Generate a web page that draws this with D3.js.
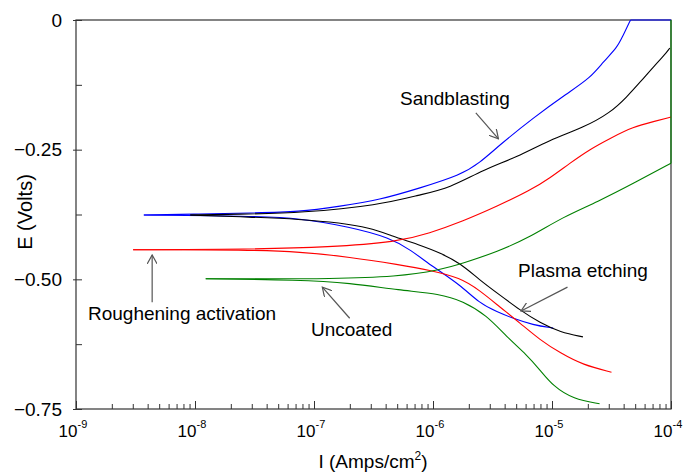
<!DOCTYPE html>
<html>
<head>
<meta charset="utf-8">
<script src="https://cdn.jsdelivr.net/npm/d3@7"></script>
<style>
  html, body { margin: 0; padding: 0; background: #fff; }
  svg { display: block; }
  text { font-family: Arial, "Liberation Sans", sans-serif; fill: #000; }
</style>
</head>
<body>
<svg id="chart" width="686" height="474"></svg>
<script>
// ---------- data (log10 of current density, potential in volts) ----------
const decadeExponents = [-9, -8, -7, -6, -5, -4];
const yTickValues = [0, -0.25, -0.5, -0.75];
const yMinorValues = [-0.125, -0.375, -0.625];

// Sandblasting (blue)
const blueAnodicLogI = [-8.43, -7.96, -7.54, -7.12, -6.78, -6.45, -6.11, -5.77, -5.61, -5.44, -5.16, -4.87, -4.68, -4.57, -4.45, -4.41, -4.34, -4.2, -4.0];
const blueAnodicE    = [-0.376, -0.374, -0.372, -0.370, -0.359, -0.347, -0.324, -0.299, -0.276, -0.241, -0.189, -0.141, -0.112, -0.081, -0.052, -0.033, 0.0, 0.05, 0.1];
const blueCathodicLogI = [-8.43, -7.54, -7.12, -6.70, -6.36, -6.19, -6.00, -5.77, -5.61, -5.46, -5.33, -5.16, -4.99];
const blueCathodicE    = [-0.376, -0.378, -0.382, -0.399, -0.420, -0.443, -0.476, -0.511, -0.546, -0.563, -0.575, -0.588, -0.594];

// Plasma etching (black)
const blackAnodicLogI = [-8.04, -7.54, -7.12, -6.45, -6.11, -5.86, -5.58, -5.29, -5.02, -4.74, -4.51, -4.37, -4.26, -4.12, -4.06, -4.01];
const blackAnodicE    = [-0.376, -0.374, -0.372, -0.357, -0.337, -0.324, -0.289, -0.264, -0.231, -0.208, -0.179, -0.148, -0.120, -0.083, -0.069, -0.054];
const blackCathodicLogI = [-8.04, -7.54, -7.12, -6.78, -6.53, -6.36, -6.11, -5.94, -5.77, -5.61, -5.44, -5.27, -5.10, -4.93, -4.74];
const blackCathodicE    = [-0.376, -0.380, -0.384, -0.391, -0.401, -0.415, -0.434, -0.449, -0.469, -0.501, -0.530, -0.559, -0.584, -0.602, -0.611];

// Roughening activation (red)
const redAnodicLogI = [-8.52, -7.54, -6.87, -6.30, -6.03, -5.75, -5.46, -5.18, -5.02, -4.85, -4.68, -4.51, -4.32, -4.13, -4.00];
const redAnodicE    = [-0.443, -0.442, -0.438, -0.428, -0.411, -0.388, -0.359, -0.328, -0.305, -0.276, -0.249, -0.228, -0.206, -0.195, -0.187];
const redCathodicLogI = [-8.52, -7.54, -7.12, -6.70, -6.28, -6.03, -5.77, -5.61, -5.44, -5.27, -5.10, -4.93, -4.74, -4.50];
const redCathodicE    = [-0.443, -0.443, -0.447, -0.457, -0.472, -0.482, -0.497, -0.521, -0.553, -0.584, -0.617, -0.642, -0.665, -0.679];

// Uncoated (green)
const greenAnodicLogI = [-7.91, -7.45, -6.87, -6.30, -5.94, -5.75, -5.46, -5.18, -4.91, -4.62, -4.29, -4.00, -3.95, -3.9, -3.8];
const greenAnodicE    = [-0.499, -0.499, -0.499, -0.495, -0.482, -0.469, -0.447, -0.418, -0.380, -0.351, -0.312, -0.276, -0.2, -0.08, 0.05];
const greenCathodicLogI = [-7.91, -7.12, -6.70, -6.28, -5.94, -5.75, -5.55, -5.38, -5.21, -5.10, -4.99, -4.82, -4.60];
const greenCathodicE    = [-0.499, -0.501, -0.507, -0.521, -0.528, -0.542, -0.569, -0.611, -0.646, -0.675, -0.706, -0.731, -0.740];

const seriesNames = ["Sandblasting", "Plasma etching", "Roughening activation", "Uncoated"];
const seriesColors = ["#0000ff", "#000000", "#ff0000", "#008000"];

// annotation arrows: [logI, E] of tail and head
const noteTail = [[-5.64, -0.179], [-4.87, -0.515], [-8.36, -0.544], [-6.70, -0.575]];
const noteHead = [[-5.45, -0.229], [-5.26, -0.561], [-8.36, -0.453], [-6.93, -0.515]];

// ---------- layout ----------
const svg = d3.select("#chart");
const L = 76, R = 671, T = 20, B = 409;
const x = d3.scaleLog().domain([1e-9, 1e-4]).range([L, R]).clamp(true);
const y = d3.scaleLinear().domain([0, -0.75]).range([T, B]).clamp(true);

const toPts = (li, e) => li.map((v, i) => [Math.pow(10, v), e[i]]);
const curves = [
  {c: 0, pts: toPts(blueAnodicLogI, blueAnodicE)},
  {c: 0, pts: toPts(blueCathodicLogI, blueCathodicE)},
  {c: 1, pts: toPts(blackAnodicLogI, blackAnodicE)},
  {c: 1, pts: toPts(blackCathodicLogI, blackCathodicE)},
  {c: 2, pts: toPts(redAnodicLogI, redAnodicE)},
  {c: 2, pts: toPts(redCathodicLogI, redCathodicE)},
  {c: 3, pts: toPts(greenAnodicLogI, greenAnodicE)},
  {c: 3, pts: toPts(greenCathodicLogI, greenCathodicE)}
];

// frame
svg.append("rect").attr("x", L).attr("y", T).attr("width", R - L).attr("height", B - T)
  .attr("fill", "none").attr("stroke", "#333").attr("stroke-width", 1.2);

// y axis: outer part of major ticks with labels
const yAxis = d3.axisLeft(y).tickValues(yTickValues).tickSizeInner(3).tickSizeOuter(0).tickPadding(11)
  .tickFormat(d => d === 0 ? "0" : d3.format(".2f")(d));
const gy = svg.append("g").attr("transform", `translate(${L},0)`).call(yAxis);
gy.select(".domain").remove();
gy.selectAll("line").attr("stroke", "#333");
gy.selectAll("text").attr("font-size", 19).style("font-family", "Arial, 'Liberation Sans', sans-serif");
// inner ticks (major + minor)
const gyIn = svg.append("g").attr("transform", `translate(${L},0)`)
  .call(d3.axisLeft(y).tickValues(yTickValues.concat(yMinorValues)).tickSizeInner(-6).tickSizeOuter(0).tickFormat(""));
gyIn.select(".domain").remove();
gyIn.selectAll("line").attr("stroke", "#333");

// x axis
const decades = decadeExponents.map(e => Math.pow(10, e));
const minors = [];
decadeExponents.slice(0, -1).forEach(e => { for (let k = 2; k <= 9; k++) minors.push(k * Math.pow(10, e)); });
const gxMin = svg.append("g").attr("transform", `translate(0,${B})`)
  .call(d3.axisBottom(x).tickValues(minors).tickSizeInner(-5).tickSizeOuter(0).tickFormat(""));
gxMin.select(".domain").remove();
gxMin.selectAll("line").attr("stroke", "#333");
const gx = svg.append("g").attr("transform", `translate(0,${B})`)
  .call(d3.axisBottom(x).tickValues(decades).tickSizeInner(-8).tickSizeOuter(0).tickFormat(""));
gx.select(".domain").remove();
gx.selectAll("line").attr("stroke", "#333");
gx.selectAll(".tick").each(function(d, i) {
  const g = d3.select(this);
  g.append("text").attr("x", 1).attr("y", 28).attr("text-anchor", "end")
    .attr("font-size", 17).attr("fill", "#000").text("10");
  g.append("text").attr("x", 1).attr("y", 19).attr("text-anchor", "start")
    .attr("font-size", 11).attr("fill", "#000").text(String(decadeExponents[i]));
});

// axis titles
svg.append("text").attr("transform", `translate(32,212) rotate(-90)`)
  .attr("text-anchor", "middle").attr("font-size", 20).text("E (Volts)");
const xt = svg.append("text").attr("x", 373).attr("y", 468).attr("text-anchor", "middle").attr("font-size", 19);
xt.append("tspan").text("I (Amps/cm");
xt.append("tspan").attr("dy", -8).attr("font-size", 12).text("2");
xt.append("tspan").attr("dy", 8).text(")");

// curves: in-range part smoothed, part beyond the axes drawn straight (clamped to the frame)
const inside = d => d[0] <= 1e-4 && d[1] <= 0;
const smooth = d3.line().x(d => x(d[0])).y(d => y(d[1])).curve(d3.curveBasis);
const straight = d3.line().x(d => x(d[0])).y(d => y(d[1]));
const gc = svg.append("g");
curves.forEach(cv => {
  let k = cv.pts.findIndex(p => !inside(p));
  if (k < 0) k = cv.pts.length;
  gc.append("path").attr("d", smooth(cv.pts.slice(0, k))).attr("fill", "none")
    .attr("stroke", seriesColors[cv.c]).attr("stroke-width", 1.1);
  if (k < cv.pts.length) {
    gc.append("path").attr("d", straight(cv.pts.slice(k - 1))).attr("fill", "none")
      .attr("stroke", seriesColors[cv.c]).attr("stroke-width", 1.1);
  }
});

// annotations
const defs = svg.append("defs");
defs.append("marker").attr("id", "arr").attr("viewBox", "0 0 10 10").attr("refX", 9).attr("refY", 5)
  .attr("markerWidth", 10).attr("markerHeight", 10).attr("markerUnits", "userSpaceOnUse").attr("orient", "auto")
  .append("path").attr("d", "M0,0 L9,5 L0,10").attr("fill", "none").attr("stroke", "#555").attr("stroke-width", 1.2);

const notePos = [[400, 105], [518, 277], [88, 320], [311, 336]];
const gn = svg.append("g");
seriesNames.forEach((name, i) => {
  gn.append("text").attr("x", notePos[i][0]).attr("y", notePos[i][1]).attr("font-size", 19).text(name);
  gn.append("line")
    .attr("x1", x(Math.pow(10, noteTail[i][0]))).attr("y1", y(noteTail[i][1]))
    .attr("x2", x(Math.pow(10, noteHead[i][0]))).attr("y2", y(noteHead[i][1]))
    .attr("stroke", "#555").attr("stroke-width", 1.2).attr("marker-end", "url(#arr)");
});
</script>
</body>
</html>
